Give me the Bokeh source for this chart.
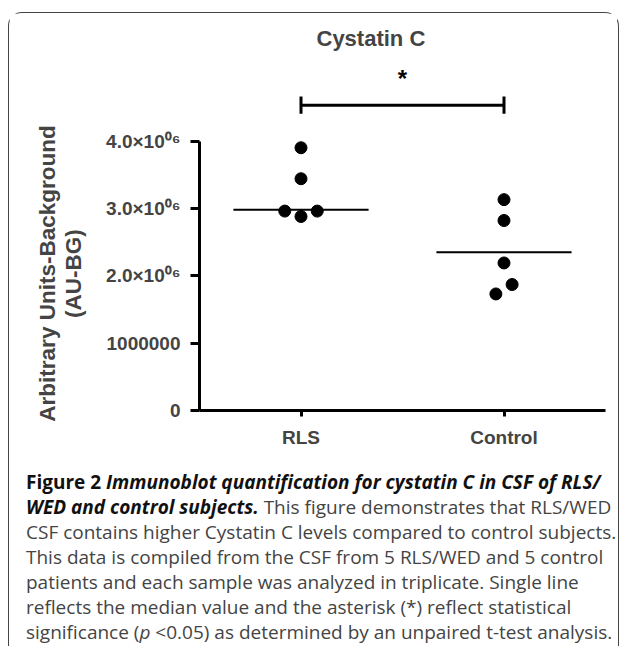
from bokeh.plotting import figure
from bokeh.models import Range1d, FixedTicker, Div
from bokeh.layouts import column
from bokeh.embed import file_html
from bokeh.resources import INLINE

# ---- data ----
categories = ["RLS", "Control"]
rls_values = [3.90e6, 3.44e6, 2.96e6, 2.96e6, 2.88e6]
control_values = [3.13e6, 2.82e6, 2.19e6, 1.87e6, 1.73e6]
center_lines = [2.98e6, 2.35e6]
y_ticks = [0, 1e6, 2e6, 3e6, 4e6]
y_tick_labels = ["0", "1000000", "2.0×10⁰⁶", "3.0×10⁰⁶", "4.0×10⁰⁶"]
significance = ("RLS", "Control", "*")

# horizontal spread of overlapping points (scatter layout)
rls_spread = [0, 0, -0.08, 0.08, 0]
control_spread = [0, 0, 0, 0.04, -0.04]

W = 608
LEFT = 190
RIGHT = 12
FONT = "Liberation Sans"

pos = {c: i + 1 for i, c in enumerate(categories)}
x_range = Range1d(0.5, 2.5)

# ---- top strip: title + significance bracket ----
top = figure(width=W, height=105, x_range=x_range, y_range=Range1d(4.33e6, 5.23e6),
             output_backend="svg", toolbar_location=None,
             x_axis_location=None, y_axis_location=None,
             min_border_left=LEFT, min_border_right=RIGHT,
             min_border_top=45, min_border_bottom=0, title="Cystatin C")
top.grid.visible = False
top.outline_line_color = None
top.title.text_font = FONT
top.title.text_font_size = "22px"
top.title.text_font_style = "bold"
top.title.align = "left"
top.title.offset = 117
top.title.standoff = 16

a, b, star = significance
bar_y = 4.53e6
cap_lo, cap_hi = 4.40e6, 4.66e6
top.segment(x0=[pos[a]], x1=[pos[b]], y0=[bar_y], y1=[bar_y], line_width=3, line_color="black")
top.segment(x0=[pos[a], pos[b]], x1=[pos[a], pos[b]], y0=[cap_lo, cap_lo], y1=[cap_hi, cap_hi],
            line_width=3, line_color="black")
top.text(x=[(pos[a] + pos[b]) / 2], y=[4.93e6], text=[star], text_align="center",
         text_baseline="middle", text_font_size="24px", text_font_style="bold",
         text_font={"value": FONT})

# ---- main plot ----
p = figure(width=W, height=344, x_range=x_range, y_range=Range1d(0, 4.067e6),
           output_backend="svg", toolbar_location=None,
           min_border_left=LEFT, min_border_right=RIGHT,
           min_border_top=18, min_border_bottom=52)
p.grid.visible = False
p.outline_line_color = None

xs, ys = [], []
for c, vals, spread in [("RLS", rls_values, rls_spread), ("Control", control_values, control_spread)]:
    for v, s in zip(vals, spread):
        xs.append(pos[c] + s)
        ys.append(v)
p.scatter(x=xs, y=ys, size=12, marker="circle", fill_color="black", line_color="black")

half = 0.333
p.segment(x0=[pos[c] - half for c in categories], x1=[pos[c] + half for c in categories],
          y0=center_lines, y1=center_lines, line_width=2, line_color="black")

yax = p.yaxis[0]
yax.ticker = FixedTicker(ticks=y_ticks)
yax.major_label_overrides = {t: l for t, l in zip(y_ticks, y_tick_labels)}
yax.bounds = (0, 4e6)
yax.minor_tick_line_color = None
yax.axis_line_width = 3
yax.major_tick_line_width = 3
yax.major_tick_out = 9
yax.major_tick_in = 0
yax.major_label_standoff = 10
yax.major_label_text_font = FONT
yax.major_label_text_font_size = "19px"
yax.major_label_text_font_style = "bold"
yax.axis_label = "Arbitrary Units-Background\n(AU-BG)"
yax.axis_label_text_font = FONT
yax.axis_label_text_font_size = "22.5px"
yax.axis_label_text_font_style = "bold"
yax.axis_label_text_line_height = 1.05
yax.axis_label_standoff = 17

xax = p.xaxis[0]
xax.ticker = FixedTicker(ticks=[pos[c] for c in categories])
xax.major_label_overrides = {pos[c]: c for c in categories}
xax.minor_tick_line_color = None
xax.axis_line_width = 3
xax.major_tick_line_width = 3
xax.major_tick_out = 6
xax.major_tick_in = 0
xax.major_label_standoff = 10
xax.major_label_text_font = FONT
xax.major_label_text_font_size = "19px"
xax.major_label_text_font_style = "bold"

caption = (
    '<div style="font-family:\'Open Sans\'; font-size:19px; line-height:25px; color:#444;'
    ' white-space:nowrap; padding:3px 0 0 12px;">'
    '<b style="color:#111">Figure 2</b> <b style="color:#111"><i>Immunoblot quantification for cystatin C in CSF of RLS/</i></b><br>'
    '<b style="color:#111"><i>WED and control subjects.</i></b> This figure demonstrates that RLS/WED<br>'
    'CSF contains higher Cystatin C levels compared to control subjects.<br>'
    'This data is compiled from the CSF from 5 RLS/WED and 5 control<br>'
    'patients and each sample was analyzed in triplicate. Single line<br>'
    'reflects the median value and the asterisk (*) reflect statistical<br>'
    'significance (<i>p</i> &lt;0.05) as determined by an unpaired t-test analysis.'
    '</div>'
)
cap = Div(text=caption, width=W, height=180)

layout = column(top, p, cap, width=611, margin=(12, 0, 0, 8),
                styles={"border": "1.5px solid #444", "border-bottom": "none",
                        "border-radius": "14px 14px 0 0"})

open("out.html", "w").write(file_html(layout, INLINE))
